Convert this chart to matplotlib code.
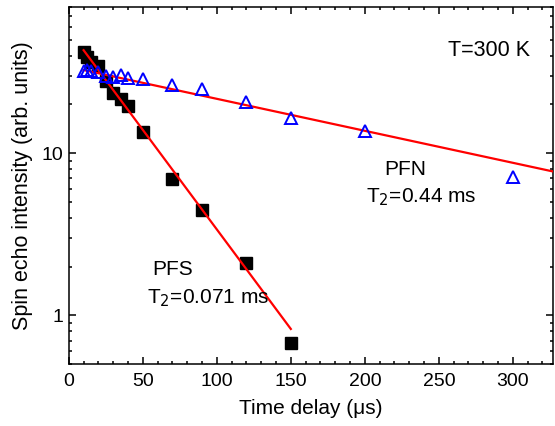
import matplotlib
matplotlib.use('Agg')
import matplotlib.pyplot as plt
from matplotlib.ticker import MultipleLocator, LogLocator, NullFormatter, FixedLocator

plt.rcParams['font.family'] = ['Liberation Sans', 'DejaVu Sans']

# PFS (black squares)
pfs_t = [10, 12, 15, 20, 25, 30, 35, 40, 50, 70, 90, 120, 150]
pfs_i = [42.3, 39.5, 36.6, 34.6, 27.8, 23.6, 21.6, 19.5, 13.5, 6.92, 4.48, 2.10, 0.676]

# PFN (open blue triangles)
pfn_t = [10, 12, 15, 20, 25, 30, 35, 40, 50, 70, 90, 120, 150, 200, 300]
pfn_i = [32.1, 32.6, 32.3, 31.9, 29.9, 29.6, 30.3, 29.3, 28.7, 26.3, 24.8, 20.8, 16.4, 13.8, 7.18]

# fitted lines (end points)
fit_pfs_t = [10, 150]
fit_pfs_i = [43.2, 0.825]
fit_pfn_t = [10, 335]
fit_pfn_i = [32.6, 7.45]

fig = plt.figure(figsize=(5.55, 4.26), dpi=100)
ax = fig.add_axes([0.124, 0.145, 0.872, 0.839])

ax.plot(fit_pfs_t, fit_pfs_i, color='red', lw=1.6, zorder=3)
ax.plot(fit_pfn_t, fit_pfn_i, color='red', lw=1.6, zorder=3)
ax.plot(pfs_t, pfs_i, ls='none', marker='s', ms=8.5, color='black', zorder=2)
ax.plot(pfn_t, pfn_i, ls='none', marker='^', ms=9, mfc='none', mec='blue', mew=1.4, zorder=4)

ax.set_yscale('log')
ax.set_xlim(0, 327)
ax.set_ylim(0.5, 80)
ax.xaxis.set_major_locator(MultipleLocator(50))
ax.xaxis.set_minor_locator(MultipleLocator(10))
ax.yaxis.set_major_locator(FixedLocator([1, 10]))
ax.yaxis.set_minor_locator(LogLocator(base=10, subs=range(2, 10)))
ax.yaxis.set_minor_formatter(NullFormatter())
ax.set_yticklabels(['1', '10'])

ax.tick_params(which='both', direction='in', top=True, right=True, labelsize=14, width=1.1)
ax.tick_params(which='major', length=5)
ax.tick_params(which='minor', length=2.5)
ax.tick_params(axis='x', which='major', pad=6)
ax.tick_params(axis='y', which='major', pad=4)
for s in ax.spines.values():
    s.set_linewidth(1.1)

ax.set_xlabel('Time delay (\u03bcs)', fontsize=15, labelpad=7)
ax.set_ylabel('Spin echo intensity (arb. units)', fontsize=15.5, labelpad=6)

ax.text(0.953, 0.879, 'T=300 K', transform=ax.transAxes, fontsize=15.5, ha='right', va='center')
ax.text(227, 7.9, 'PFN', fontsize=15, ha='center', va='center')
ax.text(238, 5.38, 'T$_2$=0.44 ms', fontsize=15, ha='center', va='center')
ax.text(70, 1.91, 'PFS', fontsize=15, ha='center', va='center')
ax.text(94, 1.285, 'T$_2$=0.071 ms', fontsize=15, ha='center', va='center')

fig.savefig('out.png', dpi=100)
